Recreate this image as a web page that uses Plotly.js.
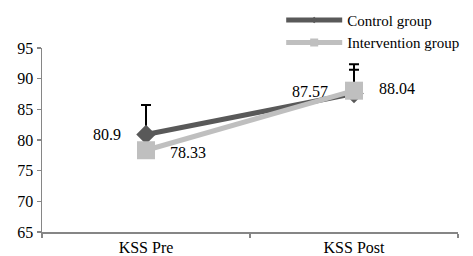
<!DOCTYPE html>
<html>
<head>
<meta charset="utf-8">
<script src="https://cdn.plot.ly/plotly-3.0.1.min.js"></script>
<style>html,body{margin:0;padding:0;background:#fff;}#chart{width:473px;height:256px;}</style>
</head>
<body>
<div id="chart"></div>
<script>
var categories = ["KSS Pre", "KSS Post"];
var controlValues = [80.9, 87.57];
var controlErrors = [4.8, 4.8];
var interventionValues = [78.33, 88.04];
var interventionErrors = [1.0, 3.4];
var yTicks = [65, 70, 75, 80, 85, 90, 95];
var seriesNames = ["Control group", "Intervention group"];

function mkFont(s) { return {family: "Liberation Serif", size: s || 16, color: "#000000"}; }

var control = {
  x: categories, y: controlValues, name: seriesNames[0], type: "scatter", mode: "lines+markers", showlegend: false,
  line: {color: "#595959", width: 5},
  marker: {symbol: "diamond", size: 15, color: "#595959"},
  error_y: {type: "data", array: controlErrors, arrayminus: [0, 0], symmetric: false, color: "#000", thickness: 2, width: 5}
};
var intervention = {
  x: categories, y: interventionValues, name: seriesNames[1], type: "scatter", mode: "lines+markers", showlegend: false,
  line: {color: "#bfbfbf", width: 5},
  marker: {symbol: "square", size: 18, color: "#bfbfbf"},
  error_y: {type: "data", array: interventionErrors, arrayminus: [0, 0], symmetric: false, color: "#000", thickness: 2, width: 5}
};
var controlLegend = {
  x: [null], y: [null], name: seriesNames[0], type: "scatter", mode: "lines+markers",
  line: {color: "#595959", width: 5}, marker: {symbol: "diamond", size: 5, color: "#595959"}
};
var interventionLegend = {
  x: [null], y: [null], name: seriesNames[1], type: "scatter", mode: "lines+markers",
  line: {color: "#bfbfbf", width: 5}, marker: {symbol: "square", size: 8, color: "#bfbfbf"}
};

var annotations = [
  {x: categories[0], y: controlValues[0], text: String(controlValues[0]), showarrow: false, xshift: -39, yshift: 0, font: mkFont()},
  {x: categories[1], y: controlValues[1], text: String(controlValues[1]), showarrow: false, xshift: -44, yshift: 2, font: mkFont()},
  {x: categories[0], y: interventionValues[0], text: String(interventionValues[0]), showarrow: false, xshift: 42, yshift: -2, font: mkFont()},
  {x: categories[1], y: interventionValues[1], text: String(interventionValues[1]), showarrow: false, xshift: 43, yshift: 2, font: mkFont()}
];

var layout = {
  width: 473, height: 256,
  margin: {l: 42, r: 15, t: 48, b: 24, autoexpand: false},
  paper_bgcolor: "#fff", plot_bgcolor: "#fff",
  font: mkFont(),
  showlegend: true,
  legend: {x: 0.575, y: 1.24, xanchor: "left", yanchor: "top", font: mkFont(15), itemwidth: 56, tracegroupgap: 0, bgcolor: "rgba(0,0,0,0)"},
  xaxis: {
    type: "category", range: [-0.5, 1.5], tickson: "boundaries", automargin: false,
    showline: true, linecolor: "#868686", linewidth: 1.5,
    ticks: "outside", ticklen: 4, tickcolor: "#868686", tickwidth: 1.5,
    showgrid: false, zeroline: false, tickfont: mkFont()
  },
  yaxis: {
    range: [65, 95], tickvals: yTicks, ticktext: yTicks.map(String), automargin: false,
    showline: true, linecolor: "#868686", linewidth: 1.5,
    ticks: "outside", ticklen: 4, tickcolor: "#868686", tickwidth: 1.5,
    showgrid: false, zeroline: false, tickfont: mkFont()
  },
  annotations: annotations
};

Plotly.newPlot("chart", [control, intervention, controlLegend, interventionLegend], layout, {displayModeBar: false, staticPlot: true});
</script>
</body>
</html>
